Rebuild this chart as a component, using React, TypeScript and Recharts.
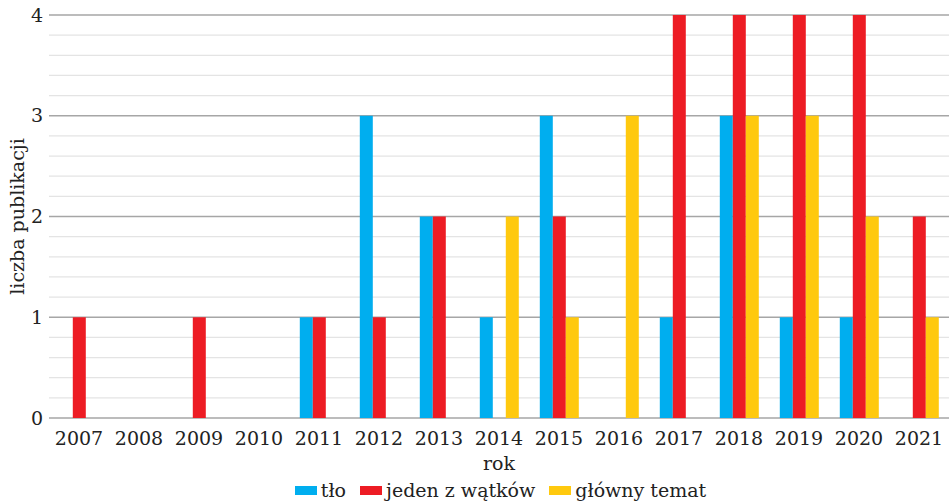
import React from 'react';
import { BarChart, Bar, XAxis, YAxis, CartesianGrid, Legend } from 'recharts';

const years = ['2007', '2008', '2009', '2010', '2011', '2012', '2013', '2014', '2015', '2016', '2017', '2018', '2019', '2020', '2021'];
const tlo = [0, 0, 0, 0, 1, 3, 2, 1, 3, 0, 1, 3, 1, 1, 0];
const jedenZWatkow = [1, 0, 1, 0, 1, 1, 2, 0, 2, 0, 4, 4, 4, 4, 2];
const glownyTemat = [0, 0, 0, 0, 0, 0, 0, 2, 1, 3, 0, 3, 3, 2, 1];
const majorTicks = [0, 1, 2, 3, 4];
const minorTicks = [0.2, 0.4, 0.6, 0.8, 1.2, 1.4, 1.6, 1.8, 2.2, 2.4, 2.6, 2.8, 3.2, 3.4, 3.6, 3.8];

const series = [
  { key: 'tlo', name: 'tło', color: '#00AEEF' },
  { key: 'jeden', name: 'jeden z wątków', color: '#ED1C24' },
  { key: 'glowny', name: 'główny temat', color: '#FFC90E' },
];

const data = years.map((rok, i) => ({
  rok,
  tlo: tlo[i],
  jeden: jedenZWatkow[i],
  glowny: glownyTemat[i],
}));

const FONT = '"DejaVu Serif", serif';
const FS = 19;

const LegendContent = () => (
  <div
    style={{
      height: 28,
      display: 'flex',
      justifyContent: 'center',
      alignItems: 'center',
      paddingLeft: 52,
      fontFamily: FONT,
      fontSize: FS,
      color: '#222',
    }}
  >
    {series.map((s) => (
      <div key={s.key} style={{ display: 'flex', alignItems: 'center', margin: '0 7px' }}>
        <span style={{ width: 22, height: 9, background: s.color, marginRight: 4, display: 'inline-block' }} />
        <span>{s.name}</span>
      </div>
    ))}
  </div>
);

// minor gridlines at 0.2 steps, placed through the y scale
const minorLines = (props: any) => {
  const { yAxis, offset } = props;
  if (yAxis && typeof yAxis.scale === 'function') {
    return minorTicks.map((t) => yAxis.scale(t));
  }
  return minorTicks.map((t) => offset.top + offset.height * (1 - t / 4));
};

const App: React.FC = () => {
  return (
    <div style={{ position: 'absolute', left: 0, top: 0, background: '#fff' }}>
      <BarChart
        width={952}
        height={504}
        data={data}
        margin={{ top: 15, right: 3, left: 0, bottom: 0 }}
        barCategoryGap="18%"
        barGap={0}
      >
        <CartesianGrid
          vertical={false}
          stroke="#E4E4E4"
          strokeWidth={1.2}
          horizontalCoordinatesGenerator={minorLines}
        />
        <CartesianGrid vertical={false} stroke="#A6A6A6" strokeWidth={1.3} />
        <XAxis
          dataKey="rok"
          height={58}
          axisLine={false}
          tickLine={false}
          tickSize={0}
          tickMargin={14}
          interval={0}
          tick={{ fontFamily: FONT, fontSize: FS, fill: '#222' }}
          label={{ value: 'rok', position: 'insideBottom', offset: 6, fontFamily: FONT, fontSize: FS, fill: '#222' }}
        />
        <YAxis
          width={49}
          domain={[0, 4]}
          ticks={majorTicks}
          axisLine={false}
          tickLine={false}
          tickSize={0}
          tickMargin={6}
          tick={{ fontFamily: FONT, fontSize: FS, fill: '#222' }}
          label={{
            value: 'liczba publikacji',
            angle: -90,
            position: 'insideLeft',
            offset: 17,
            style: { textAnchor: 'middle', fontFamily: FONT, fontSize: FS, fill: '#222' },
          }}
        />
        <Legend verticalAlign="bottom" content={<LegendContent />} />
        {series.map((s) => (
          <Bar key={s.key} dataKey={s.key} name={s.name} fill={s.color} isAnimationActive={false} />
        ))}
      </BarChart>
    </div>
  );
};

export default App;
